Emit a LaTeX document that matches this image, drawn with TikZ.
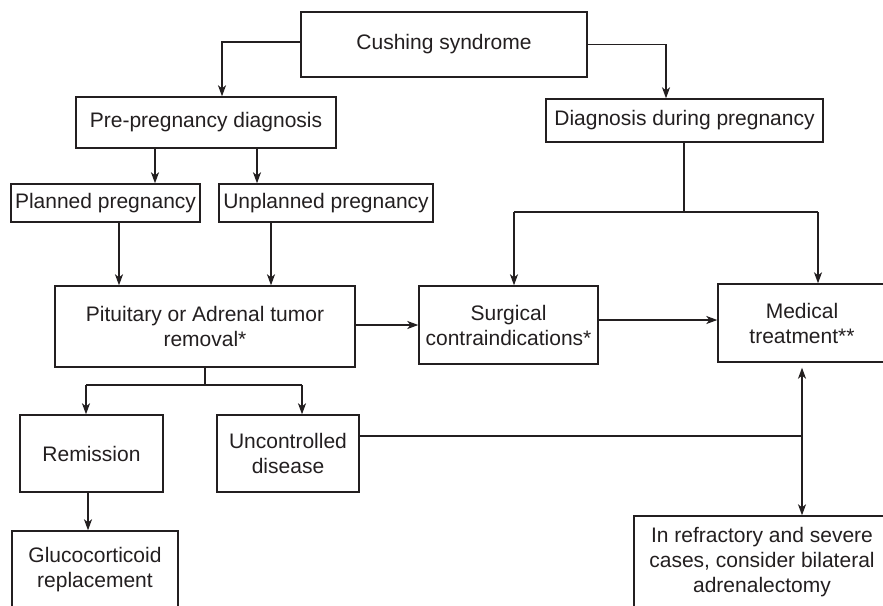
\documentclass[tikz,border=0pt]{standalone}
\usepackage{fontspec}
\setmainfont{Liberation Sans}
\usetikzlibrary{arrows.meta}
\definecolor{ink}{RGB}{35,31,32}
\begin{document}
\begin{tikzpicture}[x=1pt,y=-1pt,
  box/.style={draw=ink,line width=1.4pt,text=ink,align=center,inner sep=0pt,
    font=\fontsize{21}{25}\selectfont},
  link/.style={draw=ink,line width=1.4pt},
  arr/.style={link,-{Stealth[length=11pt,width=8pt,inset=3pt]}}]
\clip (0,0) rectangle (883,605);
\fill[white] (0,0) rectangle (883,605);
% boxes
\node[box,minimum width=286pt,minimum height=65pt] (cush) at (444,44.5) {Cushing syndrome};
\node[box,minimum width=260pt,minimum height=51pt] (pre) at (206,122.5) {Pre-pregnancy diagnosis};
\node[box,minimum width=277pt,minimum height=43pt] (diag) at (684.5,120.5) {Diagnosis during pregnancy};
\node[box,minimum width=189pt,minimum height=38pt] (plan) at (105.5,203) {Planned pregnancy};
\node[box,minimum width=214pt,minimum height=38pt] (unplan) at (326,203) {Unplanned pregnancy};
\node[box,minimum width=300pt,minimum height=81pt] (pit) at (205,326.5) {Pituitary or Adrenal tumor\\removal*};
\node[box,minimum width=179pt,minimum height=78pt] (surg) at (508.5,325) {Surgical\\contraindications*};
\node[box,minimum width=168pt,minimum height=78pt] (med) at (802,323) {Medical\\treatment**};
\node[box,minimum width=143pt,minimum height=77pt] (rem) at (91.5,453.5) {Remission};
\node[box,minimum width=142pt,minimum height=77pt] (unc) at (288,453.5) {Uncontrolled\\disease};
\node[box,minimum width=166pt,minimum height=78pt] (gluc) at (95,570) {Glucocorticoid\\replacement};
\node[box,minimum width=256pt,minimum height=92pt] (refr) at (762,562) {In refractory and severe\\cases, consider bilateral\\adrenalectomy};
% helper coordinates
\coordinate (xa) at (222,0);
\coordinate (xb) at (666,0);
\coordinate (xc) at (155,0);
\coordinate (xd) at (257,0);
\coordinate (xe) at (119,0);
\coordinate (xf) at (271,0);
\coordinate (xg) at (88,0);
\coordinate (j1) at (684,212);
\coordinate (sx) at (514,212);
\coordinate (mx) at (818,212);
\coordinate (j2) at (205,385);
\coordinate (ra) at (86,385);
\coordinate (ua) at (302,385);
\coordinate (j3) at (802,436);
% connectors
\draw[arr] ([yshift=2.5pt]cush.west) -| (pre.north -| xa);
\draw[arr] (cush.east) -| (diag.north -| xb);
\draw[arr] (pre.south -| xc) -- (plan.north -| xc);
\draw[arr] (pre.south -| xd) -- (unplan.north -| xd);
\draw[arr] (plan.south -| xe) -- (pit.north -| xe);
\draw[arr] (unplan.south -| xf) -- (pit.north -| xf);
\draw[link] (diag.south -| j1) -- (j1);
\draw[link] (sx) -- (mx);
\draw[arr] (sx) -- (surg.north -| sx);
\draw[arr] (mx) -- (med.north -| mx);
\draw[arr] ([yshift=1.5pt]pit.east) -- ([yshift=1.5pt]pit.east -| surg.west);
\draw[arr] ([yshift=5pt]surg.east) -- ([yshift=5pt]surg.east -| med.west);
\draw[link] (pit.south) -- (j2);
\draw[link] (ra) -- (ua);
\draw[arr] (ra) -- (rem.north -| ra);
\draw[arr] (ua) -- (unc.north -| ua);
\draw[arr] (rem.south -| xg) -- (gluc.north -| xg);
\draw[link] (unc.east |- j3) -- (j3);
\draw[arr,shorten >=5pt] (j3) -- (med.south -| j3);
\draw[arr] (j3) -- (refr.north -| j3);
\end{tikzpicture}
\end{document}
